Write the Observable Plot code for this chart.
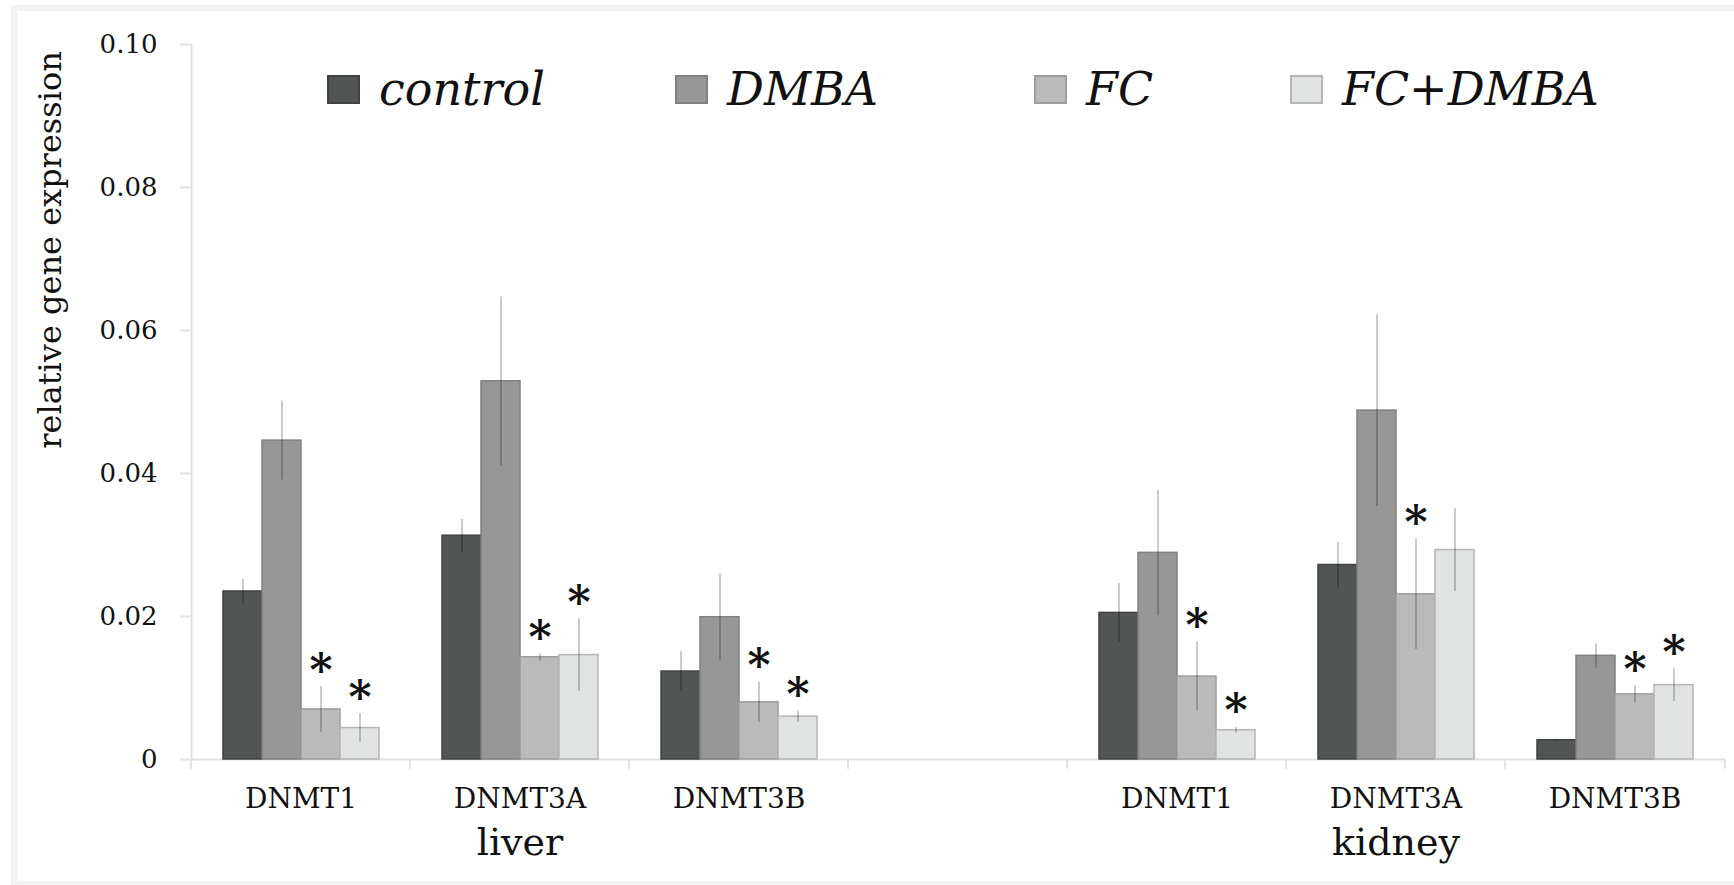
<!DOCTYPE html>
<html>
<head>
<meta charset="utf-8">
<script src="https://cdn.jsdelivr.net/npm/d3@7"></script>
<script src="https://cdn.jsdelivr.net/npm/@observablehq/plot@0.6"></script>
<style>
  html, body { margin: 0; padding: 0; background: #fff; width: 1734px; height: 885px; overflow: hidden; }
  #frame { position: absolute; left: 11px; top: 5px; width: 1760px; height: 882px; box-sizing: border-box; border: 6px solid #f2f2f2; }
  #chart { position: absolute; left: 0; top: 0; }
  #legend { position: absolute; left: 0; top: 0; width: 1734px; height: 130px; font-family: "DejaVu Serif", serif; font-style: italic; font-size: 46px; color: #111; }
  .item { position: absolute; top: 60px; height: 58px; display: flex; align-items: center; }
  .sw { width: 33px; height: 29px; box-sizing: border-box; border: 2px solid; margin-right: 19px; }
  #ylabel { position: absolute; left: 50px; top: 250px; transform: translate(-50%, -50%) rotate(-90deg); font-family: "DejaVu Serif", serif; font-size: 32px; white-space: nowrap; color: #111; }
</style>
</head>
<body>
<div id="frame"></div>
<div id="chart"></div>
<div id="legend"></div>
<div id="ylabel">relative gene expression</div>
<script>
// ---- data ----
const tissues = ["liver", "kidney"];
const genes = ["DNMT1", "DNMT3A", "DNMT3B"];
const treatments = ["control", "DMBA", "FC", "FC+DMBA"];
const yTicks = [0, 0.02, 0.04, 0.06, 0.08, 0.10];
// order: liver DNMT1, DNMT3A, DNMT3B, kidney DNMT1, DNMT3A, DNMT3B
const control   = [0.0235, 0.0313, 0.0123, 0.0205, 0.0272, 0.0027];
const controlSd = [0.0017, 0.0023, 0.0028, 0.0041, 0.0032, 0.0001];
const dmba      = [0.0446, 0.0529, 0.0199, 0.0289, 0.0488, 0.0145];
const dmbaSd    = [0.0055, 0.0118, 0.0061, 0.0088, 0.0134, 0.0017];
const fc        = [0.0070, 0.0143, 0.0080, 0.0116, 0.0231, 0.0091];
const fcSd      = [0.0032, 0.0005, 0.0028, 0.0048, 0.0077, 0.0012];
const fcDmba    = [0.0044, 0.0146, 0.0060, 0.0041, 0.0293, 0.0104];
const fcDmbaSd  = [0.0020, 0.0051, 0.0008, 0.0004, 0.0058, 0.0023];
const controlSig = [false, false, false, false, false, false];
const dmbaSig    = [false, false, false, false, false, false];
const fcSig      = [true, true, true, true, true, true];
const fcDmbaSig  = [true, true, true, true, false, true];

const fills   = ["#515553", "#979797", "#bababa", "#e0e3e1"];
const strokes = ["#3f4240", "#808080", "#9c9c9c", "#b4b6b5"];

// ---- build table ----
const gapSlot = "gap";
const slots = [];
tissues.forEach((t, ti) => {
  genes.forEach(g => slots.push(t + " " + g));
  if (ti === 0) slots.push(gapSlot);
});
const series = [
  [control, controlSd, controlSig],
  [dmba, dmbaSd, dmbaSig],
  [fc, fcSd, fcSig],
  [fcDmba, fcDmbaSd, fcDmbaSig]
];
const rows = [];
tissues.forEach((t, ti) => genes.forEach((g, gi) => {
  const i = ti * genes.length + gi;
  treatments.forEach((k, ki) => {
    const [v, sd, sig] = series[ki];
    rows.push({slot: t + " " + g, gene: g, tissue: t, treatment: k, value: v[i], lo: v[i] - sd[i], hi: v[i] + sd[i], sig: sig[i]});
  });
}));
const geneOf = s => s === gapSlot ? "" : s.split(" ")[1];
const tissueLabels = tissues.map(t => ({slot: t + " " + genes[1], label: t}));

// ---- layout ----
const W = 1734, H = 885, ML = 188, MR = 7, MT = 44, MB = 126;
const slotW = (W - ML - MR) / slots.length;
const axisGray = "#e2e2e2";

const chart = Plot.plot({
  width: W, height: H,
  marginLeft: ML, marginRight: MR, marginTop: MT, marginBottom: MB,
  style: {fontFamily: "DejaVu Serif, serif", background: "transparent", color: "#111", overflow: "visible"},
  fx: {domain: slots, padding: 0},
  x: {domain: treatments, paddingInner: 0, paddingOuter: 0.75, axis: null},
  y: {domain: [0, 0.1], axis: null},
  color: {domain: treatments, range: fills},
  marks: [
    Plot.frame({anchor: "left", facet: "super", stroke: axisGray, strokeWidth: 2}),
    Plot.frame({anchor: "bottom", facet: "super", stroke: axisGray, strokeWidth: 2}),
    Plot.axisY({ticks: yTicks, tickSize: 11, tickPadding: 23, fontSize: 26, stroke: axisGray, strokeWidth: 2,
      facetAnchor: "left", tickFormat: d => d === 0 ? "0" : d.toFixed(2), label: null}),
    Plot.axisFx({anchor: "bottom", tickSize: 10, tickFormat: () => "", dx: -slotW / 2, stroke: axisGray, strokeWidth: 2, label: null}),
    Plot.axisFx({anchor: "bottom", ticks: [slots[slots.length - 1]], tickSize: 10, tickFormat: () => "", dx: slotW / 2, stroke: axisGray, strokeWidth: 2, label: null}),
    Plot.axisFx({anchor: "bottom", tickSize: 0, tickPadding: 29, fontSize: 28, tickFormat: geneOf, label: null}),
    Plot.text(tissueLabels, {fx: "slot", text: "label", frameAnchor: "bottom", dy: 95, fontSize: 38, fill: "#111"}),
    Plot.barY(rows, {fx: "slot", x: "treatment", y: "value", fill: "treatment",
      stroke: d => strokes[treatments.indexOf(d.treatment)], strokeWidth: 1.5}),
    Plot.ruleX(rows, {fx: "slot", x: "treatment", y1: "lo", y2: "hi", stroke: "#000", strokeOpacity: 0.32, strokeWidth: 1.3}),
    Plot.text(rows.filter(d => d.sig), {fx: "slot", x: "treatment", y: "hi", text: () => "*", fontSize: 44, fontWeight: "bold",
      lineAnchor: "bottom", dy: -1, fill: "#111"})
  ]
});
document.getElementById("chart").appendChild(chart);

// ---- legend ----
const legendX = [327, 675, 1034, 1290];
const legend = document.getElementById("legend");
treatments.forEach((k, i) => {
  const it = document.createElement("div");
  it.className = "item";
  it.style.left = legendX[i] + "px";
  const sw = document.createElement("div");
  sw.className = "sw";
  sw.style.background = fills[i];
  sw.style.borderColor = strokes[i];
  const tx = document.createElement("span");
  tx.textContent = k;
  it.appendChild(sw); it.appendChild(tx);
  legend.appendChild(it);
});
</script>
</body>
</html>
